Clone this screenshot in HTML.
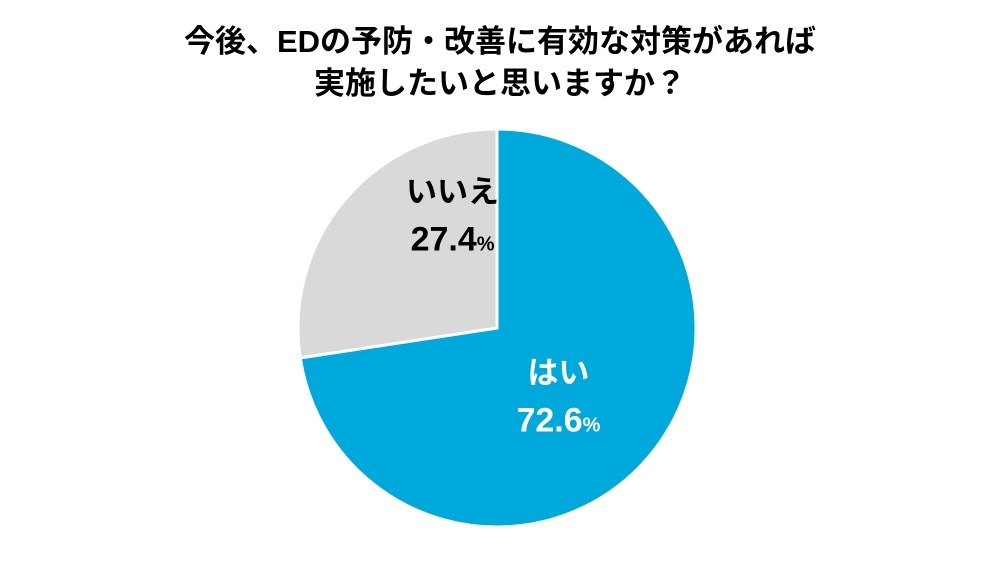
<!DOCTYPE html>
<html><head><meta charset="utf-8"><style>
body{margin:0;width:1000px;height:563px;background:#fff;overflow:hidden}
svg{display:block}
text{font-family:"Liberation Sans","Noto Sans CJK JP",sans-serif;font-weight:bold}
</style></head><body>
<svg width="1000" height="563">
<text x="500" y="52" text-anchor="middle" font-size="31" fill="#000">今後、EDの予防・改善に有効な対策があれば</text>
<text x="500" y="94" text-anchor="middle" font-size="31" fill="#000">実施したいと思いますか？</text>
<g id="slices"></g>
<g id="labels"></g>
</svg>
<script>
const categories=["はい","いいえ"];
const values=[72.6,27.4];
const colors=["#00a9db","#d9d9d9"];
const textColors=["#fff","#000"];
const cx=497,cy=328,r=199;
const g=document.getElementById('slices'),lg=document.getElementById('labels');
const ns="http://www.w3.org/2000/svg";
const total=values.reduce((a,b)=>a+b,0);
let a0=-Math.PI/2;
values.forEach((v,i)=>{
  const a1=a0+v/total*2*Math.PI;
  const x0=cx+r*Math.cos(a0),y0=cy+r*Math.sin(a0),x1=cx+r*Math.cos(a1),y1=cy+r*Math.sin(a1);
  const p=document.createElementNS(ns,'path');
  p.setAttribute('d',`M${cx},${cy}L${x0},${y0}A${r},${r} 0 ${a1-a0>Math.PI?1:0} 1 ${x1},${y1}Z`);
  p.setAttribute('fill',colors[i]);p.setAttribute('stroke','#fff');p.setAttribute('stroke-width','3');
  
  
  g.appendChild(p);
  const am=(a0+a1)/2, lr=r*0.48;
  const lx=cx+lr*Math.cos(am)+(i===0?-11:28), ly=cy+lr*Math.sin(am)+(i===0?-7:-63);
  const t1=document.createElementNS(ns,'text');
  t1.setAttribute('x',lx);t1.setAttribute('y',ly);t1.setAttribute('text-anchor','middle');
  t1.setAttribute('font-size','31');t1.setAttribute('fill',textColors[i]);
  t1.textContent=categories[i];
  
  
  lg.appendChild(t1);
  const t2=document.createElementNS(ns,'text');
  t2.setAttribute('x',lx);t2.setAttribute('y',ly+48);t2.setAttribute('text-anchor','middle');
  t2.setAttribute('font-size','34');t2.setAttribute('fill',textColors[i]);
  t2.setAttribute('style','font-family:"Liberation Sans Narrow","Liberation Sans",sans-serif');
  t2.innerHTML=v.toFixed(1)+'<tspan font-size="20">%</tspan>';
  
  
  lg.appendChild(t2);
  a0=a1;
});
</script>
</body></html>
